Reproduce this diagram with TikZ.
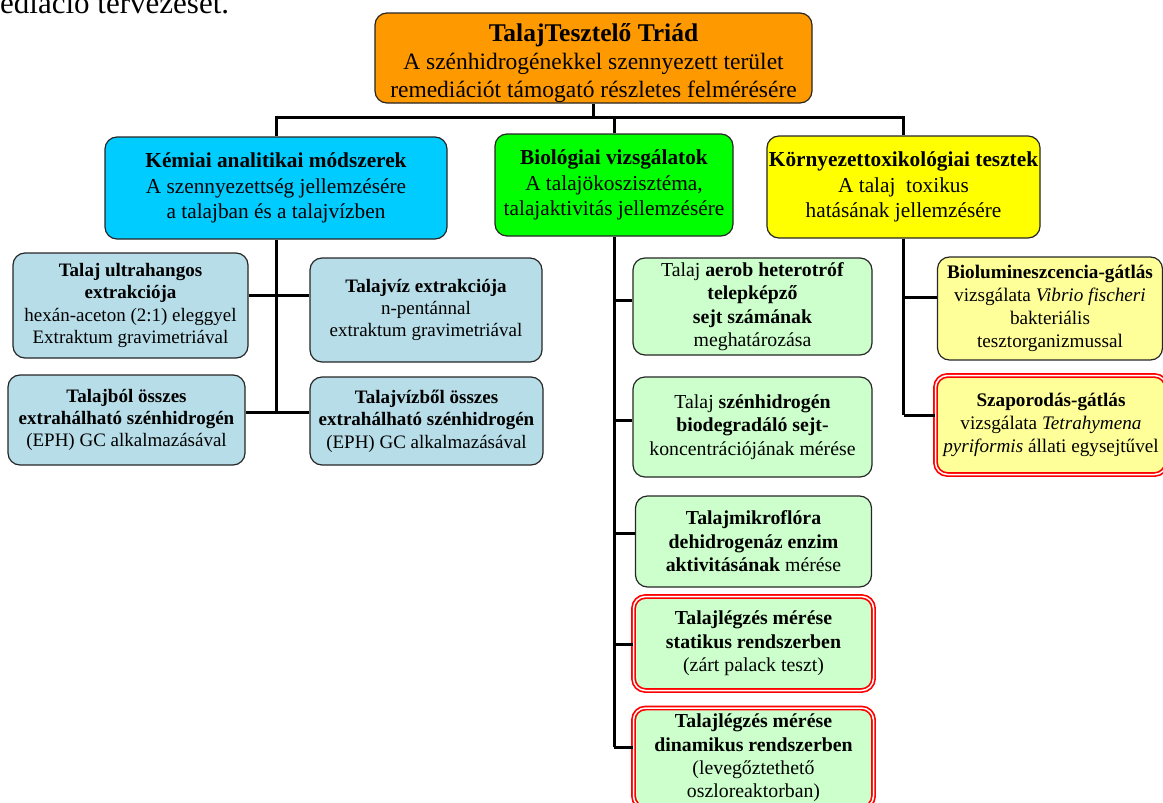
\documentclass[tikz,border=0pt]{standalone}
\usepackage{fontspec}
\setmainfont{Liberation Serif}
\definecolor{topfill}{HTML}{FF9900}
\definecolor{chemfill}{HTML}{00CCFF}
\definecolor{biofill}{HTML}{00FF00}
\definecolor{envfill}{HTML}{FFFF00}
\definecolor{chemsub}{HTML}{B7DDE8}
\definecolor{biosub}{HTML}{CCFFCC}
\definecolor{envsub}{HTML}{FFFF99}
\newcommand{\fsA}{\fontsize{23.5}{28}\selectfont}
\newcommand{\fsB}{\fontsize{21.3}{25.5}\selectfont}
\newcommand{\fsChem}{\fontsize{19}{22.4}\selectfont}
\newcommand{\fsBio}{\fontsize{19.8}{23.4}\selectfont}
\newcommand{\fsEnv}{\fontsize{19.2}{23}\selectfont}
\begin{document}
\begin{tikzpicture}[x=1pt,y=-1pt,
  box/.style={draw=black!85, line width=1.2pt, rounded corners=12pt,
    align=center, inner sep=2pt},
  redbox/.style={box, draw=red, double=white, double distance=1.5pt, line width=1.7pt},
  head/.style={font=\fsA},
  mid/.style={font=\fsB},
  chemleaf/.style={font=\fsChem},
  bioleaf/.style={font=\fsBio},
  envleaf/.style={font=\fsEnv},
  link/.style={line width=3pt, black}]
\useasboundingbox (0,0) rectangle (1163,803);

% caption fragment above the chart
\node[anchor=base west, inner sep=0pt, font=\fontsize{31}{36}\selectfont] (cap) at (0,13) {ediáció tervezését.};

% root (text block sits a little below the box centre)
\node[box, head, fill=topfill, minimum width=437, minimum height=90] (top) at (593.5,58)
  {\raisebox{-6pt}[\height][\depth]{\begin{tabular}{@{}c@{}}
   {\fontsize{25.5}{28}\selectfont\textbf{TalajTesztelő Triád}}\\
   A szénhidrogénekkel szennyezett terület\\
   remediációt támogató részletes felmérésére\end{tabular}}};

% main branches
\node[box, mid, fill=chemfill, minimum width=342, minimum height=102] (chem) at (276,188)
  {\textbf{Kémiai analitikai módszerek}\\A szennyezettség jellemzésére\\a talajban és a talajvízben};
\node[box, mid, fill=biofill, minimum width=238, minimum height=102] (bio) at (614,185)
  {\textbf{Biológiai vizsgálatok}\\A talajökoszisztéma,\\talajaktivitás jellemzésére};
\node[box, mid, fill=envfill, minimum width=273, minimum height=102] (env) at (903.5,187)
  {\textbf{Környezettoxikológiai tesztek}\\A talaj\ \ toxikus\\hatásának jellemzésére};

% chemical methods
\node[box, chemleaf, fill=chemsub, minimum width=235, minimum height=105] (ca) at (130.5,305.5)
  {\textbf{Talaj ultrahangos}\\\textbf{extrakciója}\\hexán-aceton (2:1) eleggyel\\Extraktum gravimetriával};
\node[box, chemleaf, fill=chemsub, minimum width=232, minimum height=104] (cb) at (426,310)
  {\textbf{Talajvíz extrakciója}\\n-pentánnal\\extraktum gravimetriával};
\node[box, chemleaf, fill=chemsub, minimum width=237, minimum height=90] (cc) at (126.5,420)
  {\textbf{Talajból összes}\\\textbf{extrahálható szénhidrogén}\\(EPH) GC alkalmazásával};
\node[box, chemleaf, fill=chemsub, minimum width=233, minimum height=88] (cd) at (426.5,421)
  {\textbf{Talajvízből összes}\\\textbf{extrahálható szénhidrogén}\\(EPH) GC alkalmazásával};

% biological tests
\node[box, bioleaf, fill=biosub, minimum width=239, minimum height=97] (b1) at (752.5,306.5)
  {Talaj \textbf{aerob heterotróf}\\\textbf{telepképző}\\\textbf{sejt számának}\\meghatározása};
\node[box, bioleaf, fill=biosub, minimum width=239, minimum height=100] (b2) at (752.5,427)
  {Talaj \textbf{szénhidrogén}\\\textbf{biodegradáló sejt-}\\koncentrációjának mérése};
\node[box, bioleaf, fill=biosub, minimum width=236, minimum height=91] (b3) at (753.5,541.5)
  {\textbf{Talajmikroflóra}\\\textbf{dehidrogenáz enzim}\\\textbf{aktivitásának} mérése};
\node[redbox, bioleaf, fill=biosub, minimum width=240, minimum height=94] (b4) at (753.5,643.5)
  {\textbf{Talajlégzés mérése}\\\textbf{statikus rendszerben}\\(zárt palack teszt)};
\node[redbox, bioleaf, fill=biosub, minimum width=240, minimum height=100] (b5) at (753.5,758)
  {\textbf{Talajlégzés mérése}\\\textbf{dinamikus rendszerben}\\(levegőztethető\\oszloreaktorban)};

% ecotoxicological tests
\node[box, envleaf, fill=envsub, minimum width=225, minimum height=103] (e1) at (1050,308.5)
  {\textbf{Biolumineszcencia-gátlás}\\vizsgálata \textit{Vibrio fischeri}\\bakteriális\\tesztorganizmussal};
\node[redbox, envleaf, fill=envsub, minimum width=231, minimum height=99] (e2) at (1051,425)
  {\textbf{Szaporodás-gátlás}\\vizsgálata \textit{Tetrahymena}\\\textit{pyriformis} állati egysejtűvel};

% root to main branches
\coordinate (hub) at (593.5,117);
\draw[link] (top.south) -- (hub);
\draw[link] (chem.north) |- (hub) -| (env.north);
\draw[link] (bio.north) -- (bio.north |- hub);

% chemical spine
\coordinate (cj1) at (276,295);
\coordinate (cj2) at (276,412);
\draw[link] (chem.south) -- (cj2);
\draw[link] (cj1 -| ca.east) -- (cj1 -| cb.west);
\draw[link] (cj2 -| cc.east) -- (cj2 -| cd.west);

% biological spine
\coordinate (bj1) at (614,300);
\coordinate (bj2) at (614,420);
\coordinate (bj3) at (614,533);
\coordinate (bj4) at (614,644);
\coordinate (bj5) at (614,747);
\draw[link] (bio.south) -- (bj5);
\draw[link] (bj1) -- (bj1 -| b1.west);
\draw[link] (bj2) -- (bj2 -| b2.west);
\draw[link] (bj3) -- (bj3 -| b3.west);
\draw[link] (bj4) -- (bj4 -| b4.west);
\draw[link] (bj5) -- (bj5 -| b5.west);

% ecotoxicological spine
\coordinate (ej1) at (903.5,297);
\coordinate (ej2) at (903.5,415);
\draw[link] (env.south) -- (ej2);
\draw[link] (ej1) -- (ej1 -| e1.west);
\draw[link] (ej2) -- (ej2 -| e2.west);
\end{tikzpicture}
\end{document}
